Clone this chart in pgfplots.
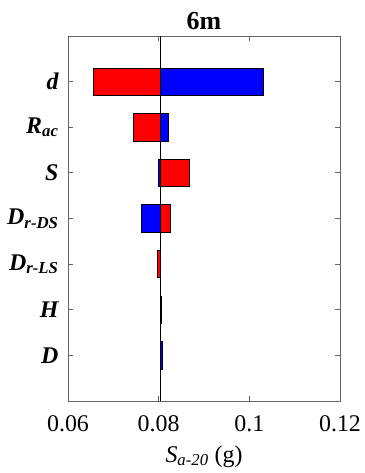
\documentclass[border=0pt]{standalone}
\usepackage{fontspec}
\setmainfont{Liberation Serif}
\usepackage{pgfplots}
\pgfplotsset{compat=1.18}
\definecolor{axgray}{RGB}{100,100,100}
\definecolor{bred}{RGB}{255,0,0}
\definecolor{bblue}{RGB}{0,0,255}
% bar: #1 = value, #2 = category, #3/#4 = bar bottom/top ; baseline 0.0803
\newcommand{\tb}[5]{\addplot[fill=#5, draw=black, line width=0.8bp] coordinates {(0.0803,#3) (#1,#3) (#1,#4) (0.0803,#4)} --cycle;}
\begin{document}
\begin{tikzpicture}
\begin{axis}[name=ax,
  width=272bp, height=365bp, scale only axis,
  xmin=0.06, xmax=0.12, ymin=0, ymax=8, y dir=reverse,
  xtick={0.06,0.08,0.1,0.12}, xticklabels={0.06,0.08,0.1,0.12},
  ytick={1,2,3,4,5,6,7},
  yticklabels={{d},{R\textsubscript{ac}},{S},{D\textsubscript{r-DS}},{D\textsubscript{r-LS}},{H},{D}},
  xtick pos=both, ytick pos=both, tick align=inside, major tick length=5bp,
  axis line style={axgray, line width=0.8bp},
  tick style={axgray, line width=0.8bp},
  xticklabel style={font=\fontsize{24}{28}\selectfont, yshift=-11bp},
  yticklabel style={font=\fontsize{24}{28}\selectfont\bfseries\itshape, xshift=-6bp},
  title={\textbf{6m}},
  title style={font=\fontsize{26}{30}\selectfont, yshift=-3bp},
  xlabel={\textit{S}\textsubscript{\textit{a-20}} (g)},
  xlabel style={font=\fontsize{24}{28}\selectfont, yshift=-7bp},
  clip=false,
]
% category 1: d
\tb{0.0655}{1}{0.7}{1.3}{bred}
\tb{0.1031}{1}{0.7}{1.3}{bblue}
% category 2: R_ac
\tb{0.0744}{2}{1.7}{2.3}{bred}
\tb{0.0822}{2}{1.7}{2.3}{bblue}
% category 3: S
\tb{0.0867}{3}{2.7}{3.3}{bred}
\tb{0.0799}{3}{2.7}{3.3}{bblue}
% category 4: D_r-DS
\tb{0.0826}{4}{3.7}{4.3}{bred}
\tb{0.0761}{4}{3.7}{4.3}{bblue}
% category 5: D_r-LS
\tb{0.0797}{5}{4.7}{5.3}{bred}
% category 6: H
\tb{0.0807}{6}{5.7}{6.3}{bred}
% category 7: D
\tb{0.0808}{7}{6.7}{7.3}{bblue}
% baseline
\addplot[black, line width=0.6bp] coordinates {(0.0803,0) (0.0803,8)};
\end{axis}
\pgfresetboundingbox
\path[use as bounding box] ([shift={(-68bp,-72bp)}]ax.south west) rectangle ([shift={(24bp,36bp)}]ax.north east);
\end{tikzpicture}
\end{document}
